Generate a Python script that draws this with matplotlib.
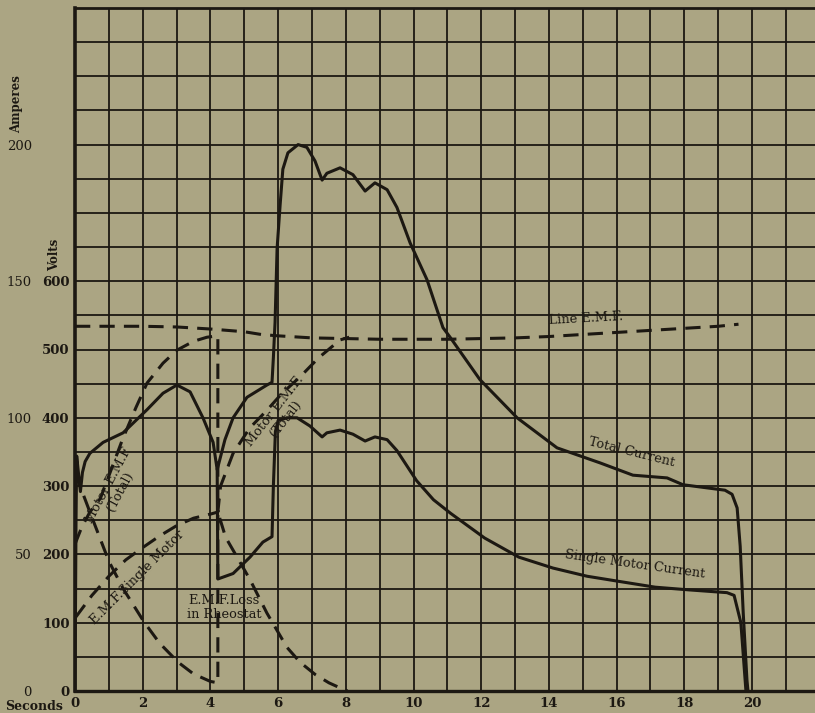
import numpy as np
import matplotlib
import matplotlib.pyplot as plt
matplotlib.use('Agg')

# --- values ---
# volts
line_emf_t = [0, 1, 2, 3, 4.0, 4.5, 5, 5.5, 6, 7, 8, 9, 10, 11, 12, 13, 14, 15, 16, 17, 18, 19, 19.6]
line_emf_v = [534, 534, 534, 533, 530, 528, 526, 522, 520, 517, 516, 515, 515, 515, 516, 517, 519, 522, 525, 528, 531, 534, 537]

motor_emf_t = [0.0, 0.2, 0.44, 0.75, 1.0, 1.4, 1.8, 2.13, 2.6, 3.01, 3.5, 3.9, 4.22,
               4.22, 4.3, 4.67, 5.16, 5.67, 6.1, 6.65, 7.2, 7.83, 8.1]
motor_emf_v = [215, 240, 262, 282, 315, 368, 415, 451, 480, 499, 512, 518, 520,
               262, 300, 348, 385, 411, 435, 460, 488, 514, 518]

single_emf_t = [0.02, 0.5, 1.0, 1.5, 2.0, 2.5, 3.0, 3.5, 4.0, 4.22]
single_emf_v = [108, 140, 168, 192, 210, 227, 242, 253, 259, 262]

rheostat_t = [0.05, 0.15, 0.44, 1.0, 1.42, 2.04, 2.5, 3.05, 3.5, 4.0, 4.22,
              4.22, 4.45, 4.8, 5.17, 5.67, 6.26, 6.65, 7.1, 7.5, 7.9, 8.05]
rheostat_v = [320, 300, 262, 190, 150, 101, 70, 42, 25, 14, 12,
              262, 225, 195, 163, 114, 64, 42, 24, 12, 3, 0]

# amperes
total_t = [0.0, 0.03, 0.05, 0.1, 0.16, 0.22, 0.3, 0.44, 0.83, 1.42, 2.13, 2.6, 3.01, 3.4, 3.78, 4.08, 4.2,
           4.43, 4.67, 5.08, 5.67, 5.82, 5.86, 5.91, 5.97, 6.06, 6.14, 6.29, 6.59, 6.85, 7.09, 7.3,
           7.44, 7.83, 8.21, 8.57, 8.86, 9.22, 9.51, 9.9, 10.4, 10.87, 11.08, 11.96, 13.06, 14.24,
           15.51, 16.48, 17.49, 17.96, 19.2, 19.41, 19.56, 19.65, 19.74, 19.85, 19.88]
total_a = [0, 62, 86, 80, 73, 80, 84, 87, 91, 94.5, 103, 109, 112, 109.5, 100, 91, 81,
           92, 100, 107.5, 112, 113, 122, 135, 162, 178, 191, 197, 200, 199, 194, 187,
           189.5, 191.5, 189, 183, 186, 183.5, 177, 164, 150.5, 133, 129.5, 114, 100, 89,
           83.5, 79, 78, 75.5, 73.5, 72, 67, 53, 28.5, 4, 0]

single_t = [4.2, 4.22, 4.67, 5.17, 5.55, 5.82, 5.86, 5.92, 6.0, 6.26, 6.56, 6.94, 7.3, 7.44, 7.83,
            8.21, 8.57, 8.86, 9.22, 9.51, 10.09, 10.59, 11.1, 12.1, 13.11, 14.12, 15.13, 16.13,
            17.14, 18.15, 19.26, 19.47, 19.67, 19.82]
single_a = [81, 41, 43, 49, 54.5, 56.5, 75, 95, 99, 100, 100, 97, 93, 94.5, 95.5,
            94, 91.5, 93, 92, 88, 77, 70, 65, 56, 49, 45, 42, 40,
            38, 37, 36, 35, 25, 0]

volt_ticks = [0, 100, 200, 300, 400, 500, 600]
amp_ticks = [0, 50, 100, 150, 200]
sec_ticks = [0, 2, 4, 6, 8, 10, 12, 14, 16, 18, 20]

paper = '#aba583'
ink = '#1c1812'
plt.rcParams['font.family'] = ['DejaVu Serif']

fig = plt.figure(figsize=(8.15, 7.13), dpi=100, facecolor=paper)
ax = fig.add_axes([75 / 815, 22 / 713, 740 / 815, 683 / 713])
ax.set_facecolor(paper)
ax.set_xlim(0, 21.86)
ax.set_ylim(0, 1000)

# grid: 1 second by 50 volts
ax.set_xticks(np.arange(0, 22, 1))
ax.set_xticklabels([str(s) if s in sec_ticks else '' for s in range(22)])
ax.set_yticks(np.arange(0, 1001, 50))
ax.set_yticklabels([str(v) if v in volt_ticks else '' for v in range(0, 1001, 50)])
ax.grid(True, color=ink, lw=1.3)
ax.tick_params(length=0, colors=ink, labelsize=9.5)
ax.tick_params(axis='y', pad=4)
ax.tick_params(axis='x', pad=4)
for lab in ax.get_xticklabels() + ax.get_yticklabels():
    lab.set_fontweight('bold')
ax.spines['right'].set_visible(False)
ax.spines['left'].set_linewidth(2.6)
ax.spines['bottom'].set_linewidth(2.4)
ax.spines['top'].set_linewidth(2.0)
for sp in ax.spines.values():
    sp.set_color(ink)

# current scale on the far left, 1 ampere = 4 volts
ax2 = ax.twinx()
ax2.set_ylim(0, 250)
ax2.yaxis.tick_left()
ax2.set_yticks(amp_ticks)
ax2.tick_params(length=0, colors=ink, labelsize=9.5, pad=0)
for lab in ax2.get_yticklabels():
    lab.set_fontweight('bold')
for sp in ax2.spines.values():
    sp.set_visible(False)
ax2.spines['left'].set_position(('outward', 31))

dash = (5, 3)
lw = 2.2
ax.plot(line_emf_t, line_emf_v, color=ink, lw=lw, dashes=dash)
ax.plot(motor_emf_t, motor_emf_v, color=ink, lw=lw, dashes=dash)
ax.plot(single_emf_t, single_emf_v, color=ink, lw=lw, dashes=dash)
ax.plot(rheostat_t, rheostat_v, color=ink, lw=lw, dashes=dash)
ax2.plot(total_t, total_a, color=ink, lw=lw)
ax2.plot(single_t, single_a, color=ink, lw=lw)

# labels written along the curves
txt = dict(color=ink, fontsize=9.3, ha='center', va='center', rotation_mode='anchor')
ax.text(15.1, 545, 'Line E.M.F.', rotation=3, **txt)
ax.text(16.46, 350, 'Total Current', rotation=-14, **txt)
ax.text(16.55, 186, 'Single Motor Current', rotation=-8, **txt)
ax.text(4.4, 122, 'E.M.F.Loss\nin Rheostat', linespacing=1.1, **txt)
ax.text(1.83, 167, 'E.M.F.Single Motor', rotation=45, **txt)
ax.text(1.15, 296, 'Motor E.M.F\n(Total)', rotation=62, linespacing=1.0, **txt)
ax.text(6.06, 404, 'Motor E.M.F.\n(Total)', rotation=52, linespacing=1.0, **txt)

fig.text(17 / 815, 1 - 104 / 713, 'Amperes', rotation=90, ha='center', va='center',
         fontsize=8.5, fontweight='bold', color=ink)
fig.text(55 / 815, 1 - 255 / 713, 'Volts', rotation=90, ha='center', va='center',
         fontsize=8.5, fontweight='bold', color=ink)
fig.text(34 / 815, 1 - 706 / 713, 'Seconds', ha='center', va='center',
         fontsize=9, fontweight='bold', color=ink)

fig.savefig('out.png', dpi=100, facecolor=paper)
